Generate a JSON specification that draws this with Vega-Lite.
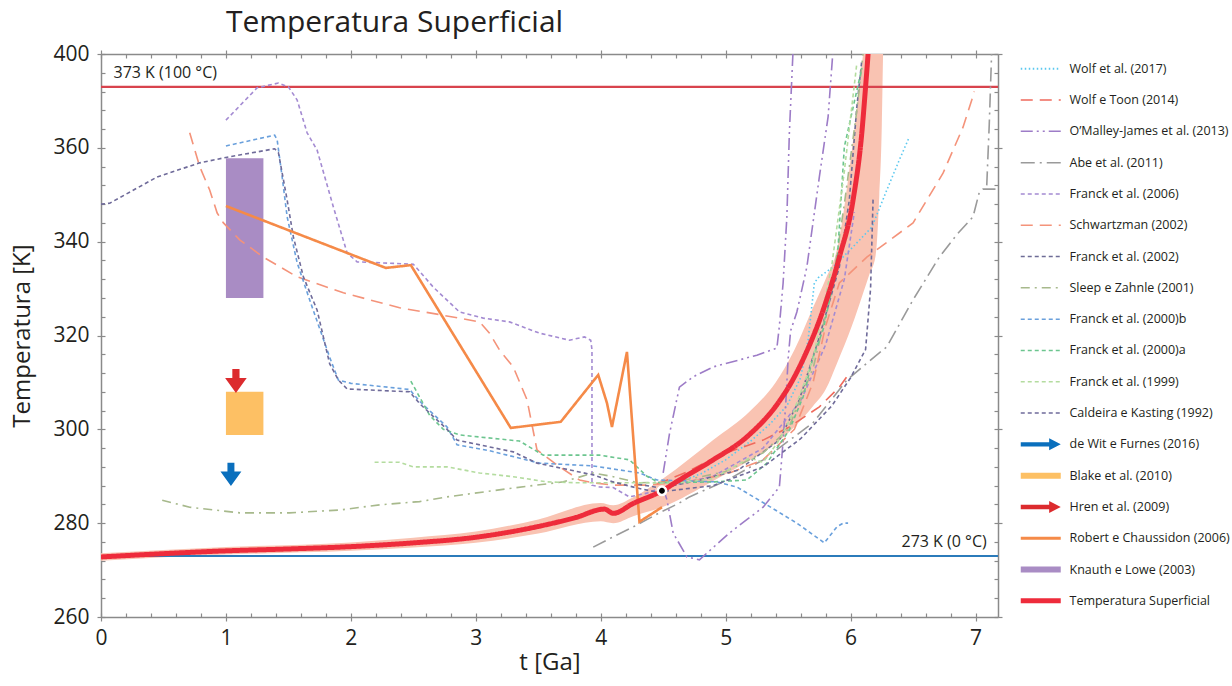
{
"$schema": "https://vega.github.io/schema/vega-lite/v6.json",
"width": 897, "height": 563,
"autosize": "none",
"padding": {"left": 101, "top": 54, "right": 234, "bottom": 69},
"background": "white",
"config": {"font": "Open Sans", "view": {"stroke": null}},
"title": {"text": "Temperatura Superficial", "fontSize": 30, "fontWeight": "normal", "color": "#231f20", "anchor": "middle", "frame": "group", "dx": -155, "offset": 5},
"datasets": {
"lines": [
{"s":"Wolf et al. (2017)","g":"W17","t":4.5,"T":287.5},{"s":"Wolf et al. (2017)","g":"W17","t":4.8,"T":290.5},{"s":"Wolf et al. (2017)","g":"W17","t":5.0,"T":293.5},{"s":"Wolf et al. (2017)","g":"W17","t":5.2,"T":297.5},{"s":"Wolf et al. (2017)","g":"W17","t":5.35,"T":301},{"s":"Wolf et al. (2017)","g":"W17","t":5.49,"T":305},{"s":"Wolf et al. (2017)","g":"W17","t":5.6,"T":311},{"s":"Wolf et al. (2017)","g":"W17","t":5.66,"T":319},{"s":"Wolf et al. (2017)","g":"W17","t":5.71,"T":331.2},{"s":"Wolf et al. (2017)","g":"W17","t":5.74,"T":332.3},{"s":"Wolf et al. (2017)","g":"W17","t":5.86,"T":334.6},{"s":"Wolf et al. (2017)","g":"W17","t":6.02,"T":338.9},{"s":"Wolf et al. (2017)","g":"W17","t":6.17,"T":343.1},{"s":"Wolf et al. (2017)","g":"W17","t":6.29,"T":351},{"s":"Wolf et al. (2017)","g":"W17","t":6.39,"T":357.4},{"s":"Wolf et al. (2017)","g":"W17","t":6.47,"T":362.3},
{"s":"Wolf e Toon (2014)","g":"WT","t":4.45,"T":288.3},{"s":"Wolf e Toon (2014)","g":"WT","t":4.7,"T":291},{"s":"Wolf e Toon (2014)","g":"WT","t":4.95,"T":294.5},{"s":"Wolf e Toon (2014)","g":"WT","t":5.3,"T":297.7},{"s":"Wolf e Toon (2014)","g":"WT","t":5.51,"T":300.5},{"s":"Wolf e Toon (2014)","g":"WT","t":5.75,"T":304.8},{"s":"Wolf e Toon (2014)","g":"WT","t":5.91,"T":309},{"s":"Wolf e Toon (2014)","g":"WT","t":5.98,"T":311.6},
{"s":"O’Malley-James et al. (2013)","g":"OMA","t":4.5,"T":290.7},{"s":"O’Malley-James et al. (2013)","g":"OMA","t":4.55,"T":299},{"s":"O’Malley-James et al. (2013)","g":"OMA","t":4.63,"T":309},{"s":"O’Malley-James et al. (2013)","g":"OMA","t":4.74,"T":311.2},{"s":"O’Malley-James et al. (2013)","g":"OMA","t":4.9,"T":313.3},{"s":"O’Malley-James et al. (2013)","g":"OMA","t":5.25,"T":315.8},{"s":"O’Malley-James et al. (2013)","g":"OMA","t":5.41,"T":317.3},{"s":"O’Malley-James et al. (2013)","g":"OMA","t":5.43,"T":322},{"s":"O’Malley-James et al. (2013)","g":"OMA","t":5.46,"T":331.2},{"s":"O’Malley-James et al. (2013)","g":"OMA","t":5.49,"T":345.3},{"s":"O’Malley-James et al. (2013)","g":"OMA","t":5.51,"T":363.2},{"s":"O’Malley-James et al. (2013)","g":"OMA","t":5.54,"T":381},
{"s":"O’Malley-James et al. (2013)","g":"OMB","t":4.5,"T":287.5},{"s":"O’Malley-James et al. (2013)","g":"OMB","t":4.53,"T":285},{"s":"O’Malley-James et al. (2013)","g":"OMB","t":4.58,"T":277.9},{"s":"O’Malley-James et al. (2013)","g":"OMB","t":4.69,"T":272.8},{"s":"O’Malley-James et al. (2013)","g":"OMB","t":4.79,"T":272.2},{"s":"O’Malley-James et al. (2013)","g":"OMB","t":5.03,"T":277.9},{"s":"O’Malley-James et al. (2013)","g":"OMB","t":5.3,"T":283.4},{"s":"O’Malley-James et al. (2013)","g":"OMB","t":5.43,"T":287.7},{"s":"O’Malley-James et al. (2013)","g":"OMB","t":5.45,"T":294.1},{"s":"O’Malley-James et al. (2013)","g":"OMB","t":5.48,"T":305},{"s":"O’Malley-James et al. (2013)","g":"OMB","t":5.5,"T":315},{"s":"O’Malley-James et al. (2013)","g":"OMB","t":5.52,"T":321},{"s":"O’Malley-James et al. (2013)","g":"OMB","t":5.57,"T":325},{"s":"O’Malley-James et al. (2013)","g":"OMB","t":5.65,"T":334.6},{"s":"O’Malley-James et al. (2013)","g":"OMB","t":5.75,"T":353.8},{"s":"O’Malley-James et al. (2013)","g":"OMB","t":5.82,"T":366.6},{"s":"O’Malley-James et al. (2013)","g":"OMB","t":5.86,"T":381},
{"s":"Abe et al. (2011)","g":"AB","t":3.94,"T":274.9},{"s":"Abe et al. (2011)","g":"AB","t":4.1,"T":277.1},{"s":"Abe et al. (2011)","g":"AB","t":4.26,"T":279.2},{"s":"Abe et al. (2011)","g":"AB","t":4.47,"T":282.2},{"s":"Abe et al. (2011)","g":"AB","t":4.63,"T":284.3},{"s":"Abe et al. (2011)","g":"AB","t":4.71,"T":285.6},{"s":"Abe et al. (2011)","g":"AB","t":5.0,"T":289},{"s":"Abe et al. (2011)","g":"AB","t":5.3,"T":293.5},{"s":"Abe et al. (2011)","g":"AB","t":5.7,"T":301.4},{"s":"Abe et al. (2011)","g":"AB","t":5.97,"T":310.5},{"s":"Abe et al. (2011)","g":"AB","t":6.13,"T":314.1},{"s":"Abe et al. (2011)","g":"AB","t":6.29,"T":317.6},{"s":"Abe et al. (2011)","g":"AB","t":6.5,"T":327.6},{"s":"Abe et al. (2011)","g":"AB","t":6.71,"T":336.7},{"s":"Abe et al. (2011)","g":"AB","t":6.85,"T":341.5},{"s":"Abe et al. (2011)","g":"AB","t":6.98,"T":345.3},{"s":"Abe et al. (2011)","g":"AB","t":7.03,"T":350.5},{"s":"Abe et al. (2011)","g":"AB","t":7.06,"T":351.2},{"s":"Abe et al. (2011)","g":"AB","t":7.16,"T":351.2},
{"s":"Abe et al. (2011)","g":"ABV","t":7.09,"T":352},{"s":"Abe et al. (2011)","g":"ABV","t":7.11,"T":365},{"s":"Abe et al. (2011)","g":"ABV","t":7.13,"T":381},
{"s":"Franck et al. (2006)","g":"F06","t":1.0,"T":365.9},{"s":"Franck et al. (2006)","g":"F06","t":1.25,"T":372.8},{"s":"Franck et al. (2006)","g":"F06","t":1.42,"T":373.8},{"s":"Franck et al. (2006)","g":"F06","t":1.5,"T":373},{"s":"Franck et al. (2006)","g":"F06","t":1.57,"T":370.2},{"s":"Franck et al. (2006)","g":"F06","t":1.65,"T":363.2},{"s":"Franck et al. (2006)","g":"F06","t":1.73,"T":359.5},{"s":"Franck et al. (2006)","g":"F06","t":1.86,"T":347.4},{"s":"Franck et al. (2006)","g":"F06","t":1.97,"T":337.6},{"s":"Franck et al. (2006)","g":"F06","t":2.05,"T":335.7},{"s":"Franck et al. (2006)","g":"F06","t":2.5,"T":335.2},{"s":"Franck et al. (2006)","g":"F06","t":2.66,"T":330.3},{"s":"Franck et al. (2006)","g":"F06","t":2.87,"T":325},{"s":"Franck et al. (2006)","g":"F06","t":3.06,"T":323.7},{"s":"Franck et al. (2006)","g":"F06","t":3.27,"T":322.9},{"s":"Franck et al. (2006)","g":"F06","t":3.51,"T":320.5},{"s":"Franck et al. (2006)","g":"F06","t":3.75,"T":319},{"s":"Franck et al. (2006)","g":"F06","t":3.87,"T":319.7},{"s":"Franck et al. (2006)","g":"F06","t":3.92,"T":319},{"s":"Franck et al. (2006)","g":"F06","t":3.93,"T":317},{"s":"Franck et al. (2006)","g":"F06","t":3.93,"T":288.1},{"s":"Franck et al. (2006)","g":"F06","t":3.99,"T":287.7},{"s":"Franck et al. (2006)","g":"F06","t":4.1,"T":287.6},{"s":"Franck et al. (2006)","g":"F06","t":4.23,"T":285.6},{"s":"Franck et al. (2006)","g":"F06","t":4.37,"T":286.4},{"s":"Franck et al. (2006)","g":"F06","t":4.48,"T":287.5},{"s":"Franck et al. (2006)","g":"F06","t":4.9,"T":290},{"s":"Franck et al. (2006)","g":"F06","t":5.3,"T":296},{"s":"Franck et al. (2006)","g":"F06","t":5.6,"T":306},{"s":"Franck et al. (2006)","g":"F06","t":5.8,"T":318},{"s":"Franck et al. (2006)","g":"F06","t":5.95,"T":332},{"s":"Franck et al. (2006)","g":"F06","t":6.03,"T":346.3},
{"s":"Schwartzman (2002)","g":"SCH","t":0.71,"T":363.2},{"s":"Schwartzman (2002)","g":"SCH","t":0.79,"T":356},{"s":"Schwartzman (2002)","g":"SCH","t":0.87,"T":351},{"s":"Schwartzman (2002)","g":"SCH","t":0.93,"T":346.1},{"s":"Schwartzman (2002)","g":"SCH","t":0.98,"T":344},{"s":"Schwartzman (2002)","g":"SCH","t":1.11,"T":340.4},{"s":"Schwartzman (2002)","g":"SCH","t":1.3,"T":336.7},{"s":"Schwartzman (2002)","g":"SCH","t":1.57,"T":332.5},{"s":"Schwartzman (2002)","g":"SCH","t":1.94,"T":329.1},{"s":"Schwartzman (2002)","g":"SCH","t":2.39,"T":325.9},{"s":"Schwartzman (2002)","g":"SCH","t":2.7,"T":324.5},{"s":"Schwartzman (2002)","g":"SCH","t":3.03,"T":322.9},{"s":"Schwartzman (2002)","g":"SCH","t":3.11,"T":320.5},{"s":"Schwartzman (2002)","g":"SCH","t":3.19,"T":316.9},{"s":"Schwartzman (2002)","g":"SCH","t":3.3,"T":313.3},{"s":"Schwartzman (2002)","g":"SCH","t":3.41,"T":306.3},{"s":"Schwartzman (2002)","g":"SCH","t":3.49,"T":295.6},{"s":"Schwartzman (2002)","g":"SCH","t":3.67,"T":292},{"s":"Schwartzman (2002)","g":"SCH","t":3.83,"T":289.2},{"s":"Schwartzman (2002)","g":"SCH","t":3.94,"T":288.6},{"s":"Schwartzman (2002)","g":"SCH","t":4.1,"T":288.1},{"s":"Schwartzman (2002)","g":"SCH","t":4.37,"T":288.1},{"s":"Schwartzman (2002)","g":"SCH","t":4.79,"T":289.2},{"s":"Schwartzman (2002)","g":"SCH","t":5.03,"T":290.7},{"s":"Schwartzman (2002)","g":"SCH","t":5.3,"T":293.5},{"s":"Schwartzman (2002)","g":"SCH","t":5.55,"T":300},{"s":"Schwartzman (2002)","g":"SCH","t":5.7,"T":310},{"s":"Schwartzman (2002)","g":"SCH","t":5.8,"T":322},{"s":"Schwartzman (2002)","g":"SCH","t":5.91,"T":331.2},{"s":"Schwartzman (2002)","g":"SCH","t":6.13,"T":336.7},{"s":"Schwartzman (2002)","g":"SCH","t":6.5,"T":344},{"s":"Schwartzman (2002)","g":"SCH","t":6.74,"T":354.6},{"s":"Schwartzman (2002)","g":"SCH","t":6.9,"T":364.4},{"s":"Schwartzman (2002)","g":"SCH","t":6.97,"T":370.2},{"s":"Schwartzman (2002)","g":"SCH","t":6.99,"T":372},
{"s":"Franck et al. (2002)","g":"F02","t":4.3,"T":288.3},{"s":"Franck et al. (2002)","g":"F02","t":4.48,"T":287.5},{"s":"Franck et al. (2002)","g":"F02","t":4.8,"T":289.2},{"s":"Franck et al. (2002)","g":"F02","t":5.1,"T":291.3},{"s":"Franck et al. (2002)","g":"F02","t":5.43,"T":297.7},{"s":"Franck et al. (2002)","g":"F02","t":5.59,"T":306.3},{"s":"Franck et al. (2002)","g":"F02","t":5.75,"T":319.7},{"s":"Franck et al. (2002)","g":"F02","t":5.91,"T":334.6},{"s":"Franck et al. (2002)","g":"F02","t":5.99,"T":348.9},{"s":"Franck et al. (2002)","g":"F02","t":6.05,"T":368.7},{"s":"Franck et al. (2002)","g":"F02","t":6.09,"T":378.7},
{"s":"Sleep e Zahnle (2001)","g":"SZ","t":0.49,"T":284.9},{"s":"Sleep e Zahnle (2001)","g":"SZ","t":0.71,"T":283.4},{"s":"Sleep e Zahnle (2001)","g":"SZ","t":1.11,"T":282.2},{"s":"Sleep e Zahnle (2001)","g":"SZ","t":1.51,"T":282.2},{"s":"Sleep e Zahnle (2001)","g":"SZ","t":1.91,"T":282.8},{"s":"Sleep e Zahnle (2001)","g":"SZ","t":2.23,"T":283.9},{"s":"Sleep e Zahnle (2001)","g":"SZ","t":2.55,"T":284.6},{"s":"Sleep e Zahnle (2001)","g":"SZ","t":2.77,"T":285.6},{"s":"Sleep e Zahnle (2001)","g":"SZ","t":3.3,"T":287.5},{"s":"Sleep e Zahnle (2001)","g":"SZ","t":3.7,"T":288.8},{"s":"Sleep e Zahnle (2001)","g":"SZ","t":3.94,"T":290.7},{"s":"Sleep e Zahnle (2001)","g":"SZ","t":4.1,"T":289.9},{"s":"Sleep e Zahnle (2001)","g":"SZ","t":4.3,"T":288.6},{"s":"Sleep e Zahnle (2001)","g":"SZ","t":4.6,"T":288.8},{"s":"Sleep e Zahnle (2001)","g":"SZ","t":5.0,"T":291},{"s":"Sleep e Zahnle (2001)","g":"SZ","t":5.3,"T":295},{"s":"Sleep e Zahnle (2001)","g":"SZ","t":5.5,"T":300},{"s":"Sleep e Zahnle (2001)","g":"SZ","t":5.7,"T":313},{"s":"Sleep e Zahnle (2001)","g":"SZ","t":5.85,"T":330},{"s":"Sleep e Zahnle (2001)","g":"SZ","t":5.95,"T":348},{"s":"Sleep e Zahnle (2001)","g":"SZ","t":6.05,"T":368},{"s":"Sleep e Zahnle (2001)","g":"SZ","t":6.1,"T":380},
{"s":"Franck et al. (2000)b","g":"F00b","t":1.0,"T":360.4},{"s":"Franck et al. (2000)b","g":"F00b","t":1.39,"T":362.7},{"s":"Franck et al. (2000)b","g":"F00b","t":1.41,"T":361.7},{"s":"Franck et al. (2000)b","g":"F00b","t":1.45,"T":353.8},{"s":"Franck et al. (2000)b","g":"F00b","t":1.49,"T":345.3},{"s":"Franck et al. (2000)b","g":"F00b","t":1.57,"T":335.5},{"s":"Franck et al. (2000)b","g":"F00b","t":1.67,"T":327.6},{"s":"Franck et al. (2000)b","g":"F00b","t":1.83,"T":315.4},{"s":"Franck et al. (2000)b","g":"F00b","t":1.9,"T":310.5},{"s":"Franck et al. (2000)b","g":"F00b","t":2.0,"T":309.8},{"s":"Franck et al. (2000)b","g":"F00b","t":2.47,"T":308.5},{"s":"Franck et al. (2000)b","g":"F00b","t":2.55,"T":306},{"s":"Franck et al. (2000)b","g":"F00b","t":2.77,"T":300.5},{"s":"Franck et al. (2000)b","g":"F00b","t":2.85,"T":296.7},{"s":"Franck et al. (2000)b","g":"F00b","t":3.1,"T":295.5},{"s":"Franck et al. (2000)b","g":"F00b","t":3.51,"T":292.8},{"s":"Franck et al. (2000)b","g":"F00b","t":3.94,"T":292.2},{"s":"Franck et al. (2000)b","g":"F00b","t":4.31,"T":290.7},{"s":"Franck et al. (2000)b","g":"F00b","t":4.45,"T":289.2},{"s":"Franck et al. (2000)b","g":"F00b","t":4.93,"T":288.8},{"s":"Franck et al. (2000)b","g":"F00b","t":5.09,"T":287.7},{"s":"Franck et al. (2000)b","g":"F00b","t":5.33,"T":283.9},{"s":"Franck et al. (2000)b","g":"F00b","t":5.57,"T":280},{"s":"Franck et al. (2000)b","g":"F00b","t":5.79,"T":275.8},{"s":"Franck et al. (2000)b","g":"F00b","t":5.89,"T":279.2},{"s":"Franck et al. (2000)b","g":"F00b","t":5.94,"T":280},{"s":"Franck et al. (2000)b","g":"F00b","t":5.98,"T":280},
{"s":"Franck et al. (2000)a","g":"F00a","t":2.48,"T":310.3},{"s":"Franck et al. (2000)a","g":"F00a","t":2.63,"T":303},{"s":"Franck et al. (2000)a","g":"F00a","t":2.74,"T":300},{"s":"Franck et al. (2000)a","g":"F00a","t":2.87,"T":298.8},{"s":"Franck et al. (2000)a","g":"F00a","t":3.35,"T":297.5},{"s":"Franck et al. (2000)a","g":"F00a","t":3.54,"T":294.5},{"s":"Franck et al. (2000)a","g":"F00a","t":3.99,"T":294.5},{"s":"Franck et al. (2000)a","g":"F00a","t":4.23,"T":293.5},{"s":"Franck et al. (2000)a","g":"F00a","t":4.37,"T":290},{"s":"Franck et al. (2000)a","g":"F00a","t":4.47,"T":288.6},{"s":"Franck et al. (2000)a","g":"F00a","t":4.9,"T":288.8},{"s":"Franck et al. (2000)a","g":"F00a","t":5.17,"T":289.2},{"s":"Franck et al. (2000)a","g":"F00a","t":5.33,"T":292.8},{"s":"Franck et al. (2000)a","g":"F00a","t":5.51,"T":299.9},{"s":"Franck et al. (2000)a","g":"F00a","t":5.62,"T":306.9},{"s":"Franck et al. (2000)a","g":"F00a","t":5.7,"T":315.4},{"s":"Franck et al. (2000)a","g":"F00a","t":5.78,"T":321.2},{"s":"Franck et al. (2000)a","g":"F00a","t":5.89,"T":334.6},{"s":"Franck et al. (2000)a","g":"F00a","t":5.95,"T":360.2},{"s":"Franck et al. (2000)a","g":"F00a","t":6.09,"T":377},
{"s":"Franck et al. (1999)","g":"F99","t":2.19,"T":293},{"s":"Franck et al. (1999)","g":"F99","t":2.39,"T":293},{"s":"Franck et al. (1999)","g":"F99","t":2.5,"T":292},{"s":"Franck et al. (1999)","g":"F99","t":2.77,"T":292},{"s":"Franck et al. (1999)","g":"F99","t":3.03,"T":290.7},{"s":"Franck et al. (1999)","g":"F99","t":3.3,"T":289.9},{"s":"Franck et al. (1999)","g":"F99","t":3.57,"T":288.8},{"s":"Franck et al. (1999)","g":"F99","t":3.83,"T":288.6},{"s":"Franck et al. (1999)","g":"F99","t":4.37,"T":288.6},{"s":"Franck et al. (1999)","g":"F99","t":4.6,"T":288.5},{"s":"Franck et al. (1999)","g":"F99","t":4.9,"T":289.5},{"s":"Franck et al. (1999)","g":"F99","t":5.19,"T":293.9},{"s":"Franck et al. (1999)","g":"F99","t":5.3,"T":293},{"s":"Franck et al. (1999)","g":"F99","t":5.43,"T":297.7},{"s":"Franck et al. (1999)","g":"F99","t":5.54,"T":303.5},{"s":"Franck et al. (1999)","g":"F99","t":5.7,"T":315},{"s":"Franck et al. (1999)","g":"F99","t":5.85,"T":335},{"s":"Franck et al. (1999)","g":"F99","t":5.95,"T":355},{"s":"Franck et al. (1999)","g":"F99","t":6.05,"T":378},
{"s":"Caldeira e Kasting (1992)","g":"CK","t":0,"T":348},{"s":"Caldeira e Kasting (1992)","g":"CK","t":0.07,"T":348.2},{"s":"Caldeira e Kasting (1992)","g":"CK","t":0.45,"T":353.8},{"s":"Caldeira e Kasting (1992)","g":"CK","t":0.79,"T":356.8},{"s":"Caldeira e Kasting (1992)","g":"CK","t":1.01,"T":358},{"s":"Caldeira e Kasting (1992)","g":"CK","t":1.39,"T":359.8},{"s":"Caldeira e Kasting (1992)","g":"CK","t":1.42,"T":359},{"s":"Caldeira e Kasting (1992)","g":"CK","t":1.49,"T":348.9},{"s":"Caldeira e Kasting (1992)","g":"CK","t":1.54,"T":341},{"s":"Caldeira e Kasting (1992)","g":"CK","t":1.62,"T":332.5},{"s":"Caldeira e Kasting (1992)","g":"CK","t":1.73,"T":325.4},{"s":"Caldeira e Kasting (1992)","g":"CK","t":1.83,"T":314},{"s":"Caldeira e Kasting (1992)","g":"CK","t":1.9,"T":310.5},{"s":"Caldeira e Kasting (1992)","g":"CK","t":1.97,"T":308.6},{"s":"Caldeira e Kasting (1992)","g":"CK","t":2.47,"T":308},{"s":"Caldeira e Kasting (1992)","g":"CK","t":2.55,"T":305.5},{"s":"Caldeira e Kasting (1992)","g":"CK","t":2.77,"T":300},{"s":"Caldeira e Kasting (1992)","g":"CK","t":2.85,"T":297.7},{"s":"Caldeira e Kasting (1992)","g":"CK","t":3.3,"T":295.2},{"s":"Caldeira e Kasting (1992)","g":"CK","t":3.49,"T":292.8},{"s":"Caldeira e Kasting (1992)","g":"CK","t":3.94,"T":290.3},{"s":"Caldeira e Kasting (1992)","g":"CK","t":4.1,"T":288.8},{"s":"Caldeira e Kasting (1992)","g":"CK","t":4.29,"T":287.5},{"s":"Caldeira e Kasting (1992)","g":"CK","t":4.45,"T":286.6},{"s":"Caldeira e Kasting (1992)","g":"CK","t":4.9,"T":288},{"s":"Caldeira e Kasting (1992)","g":"CK","t":5.3,"T":292},{"s":"Caldeira e Kasting (1992)","g":"CK","t":5.6,"T":298},{"s":"Caldeira e Kasting (1992)","g":"CK","t":5.85,"T":305},{"s":"Caldeira e Kasting (1992)","g":"CK","t":6.0,"T":311},{"s":"Caldeira e Kasting (1992)","g":"CK","t":6.12,"T":317},{"s":"Caldeira e Kasting (1992)","g":"CK","t":6.16,"T":330},{"s":"Caldeira e Kasting (1992)","g":"CK","t":6.18,"T":349}
],
"robert": [
{"s":"Robert e Chaussidon (2006)","t":1.0,"T":347.6},{"s":"Robert e Chaussidon (2006)","t":2.28,"T":334.4},{"s":"Robert e Chaussidon (2006)","t":2.48,"T":335},{"s":"Robert e Chaussidon (2006)","t":3.28,"T":300.3},{"s":"Robert e Chaussidon (2006)","t":3.68,"T":301.6},{"s":"Robert e Chaussidon (2006)","t":3.98,"T":311.6},{"s":"Robert e Chaussidon (2006)","t":4.05,"T":305.6},{"s":"Robert e Chaussidon (2006)","t":4.09,"T":300.5},{"s":"Robert e Chaussidon (2006)","t":4.21,"T":316.5},{"s":"Robert e Chaussidon (2006)","t":4.31,"T":280.3},{"s":"Robert e Chaussidon (2006)","t":4.49,"T":283.4}
],
"temp": [
{"s":"Temperatura Superficial","t":0,"T":272.8},{"s":"Temperatura Superficial","t":0.5,"T":273.5},{"s":"Temperatura Superficial","t":1,"T":274.1},{"s":"Temperatura Superficial","t":1.5,"T":274.5},{"s":"Temperatura Superficial","t":2,"T":275.0},{"s":"Temperatura Superficial","t":2.5,"T":275.8},{"s":"Temperatura Superficial","t":3,"T":277.0},{"s":"Temperatura Superficial","t":3.5,"T":279.3},{"s":"Temperatura Superficial","t":3.8,"T":281.2},{"s":"Temperatura Superficial","t":4.03,"T":283.0},{"s":"Temperatura Superficial","t":4.1,"T":282.1},{"s":"Temperatura Superficial","t":4.26,"T":284.2},{"s":"Temperatura Superficial","t":4.49,"T":286.9},{"s":"Temperatura Superficial","t":4.63,"T":289.2},{"s":"Temperatura Superficial","t":4.9,"T":293.5},{"s":"Temperatura Superficial","t":5.17,"T":298.4},{"s":"Temperatura Superficial","t":5.43,"T":306},{"s":"Temperatura Superficial","t":5.53,"T":310.2},{"s":"Temperatura Superficial","t":5.63,"T":315.5},{"s":"Temperatura Superficial","t":5.78,"T":325.4},{"s":"Temperatura Superficial","t":5.91,"T":336.7},{"s":"Temperatura Superficial","t":6.02,"T":348.9},{"s":"Temperatura Superficial","t":6.09,"T":363.2},{"s":"Temperatura Superficial","t":6.12,"T":373},{"s":"Temperatura Superficial","t":6.14,"T":380},{"s":"Temperatura Superficial","t":6.15,"T":384}
],
"band": [
{"t":0,"lo":272.0,"hi":273.6},{"t":1,"lo":273.3,"hi":274.9},{"t":2,"lo":274.1,"hi":275.9},{"t":2.5,"lo":274.8,"hi":276.9},{"t":3,"lo":275.8,"hi":278.2},{"t":3.5,"lo":277.8,"hi":280.8},{"t":4.0,"lo":280.4,"hi":284.3},{"t":4.1,"lo":280.0,"hi":283.8},{"t":4.26,"lo":281.5,"hi":285.5},{"t":4.5,"lo":283.5,"hi":289.5},{"t":4.9,"lo":289.0,"hi":297.7},{"t":5.2,"lo":293.5,"hi":304},{"t":5.4,"lo":297,"hi":310},{"t":5.55,"lo":300.5,"hi":316.9},{"t":5.7,"lo":305,"hi":326},{"t":5.8,"lo":308.5,"hi":332},{"t":5.89,"lo":314,"hi":338.2},{"t":6.01,"lo":322,"hi":359.5},{"t":6.1,"lo":329,"hi":380},{"t":6.15,"lo":333,"hi":392},{"t":6.2,"lo":337,"hi":400},{"t":6.23,"lo":350,"hi":400},{"t":6.25,"lo":365,"hi":400},{"t":6.26,"lo":380,"hi":400},{"t":6.27,"lo":396,"hi":400}
],
"rects": [
{"s":"Knauth e Lowe (2003)","t1":1.0,"t2":1.3,"T1":328.0,"T2":357.8},
{"s":"Blake et al. (2010)","t1":1.0,"t2":1.3,"T1":298.8,"T2":308.0}
],
"arrows": [
{"s":"Hren et al. (2009)","t":1.08,"T":310.3},
{"s":"de Wit e Furnes (2016)","t":1.04,"T":290.4}
],
"dot": [{"t":4.49,"T":286.9}],
"refs": [{"T":373,"label":"373 K (100 °C)"},{"T":273,"label":"273 K (0 °C)"}]
},
"layer": [
{"data":{"name":"rects"},"transform":[{"filter":"datum.s == 'Knauth e Lowe (2003)'"}],"mark":{"type":"rect","color":"#a98cc4"},
 "encoding":{"x":{"field":"t1","type":"quantitative","scale":{"domain":[0,7.18],"nice":false,"zero":false},"axis":null},"x2":{"field":"t2"},"y":{"field":"T1","type":"quantitative","scale":{"domain":[260,380],"nice":false,"zero":false},"axis":null},"y2":{"field":"T2"}}},
{"data":{"name":"rects"},"transform":[{"filter":"datum.s == 'Blake et al. (2010)'"}],"mark":{"type":"rect","color":"#fdc064"},
 "encoding":{"x":{"field":"t1","type":"quantitative","scale":{"domain":[0,7.18],"nice":false,"zero":false},"axis":null},"x2":{"field":"t2"},"y":{"field":"T1","type":"quantitative","scale":{"domain":[260,380],"nice":false,"zero":false},"axis":null},"y2":{"field":"T2"}}},
{"data":{"name":"band"},"mark":{"type":"area","color":"#f9c3b2","interpolate":"monotone","clip":true},
 "encoding":{"x":{"field":"t","type":"quantitative","scale":{"domain":[0,7.18],"nice":false,"zero":false},
   "axis":{"orient":"bottom","values":[0,0.2,0.4,0.6,0.8,1,1.2,1.4,1.6,1.8,2,2.2,2.4,2.6,2.8,3,3.2,3.4,3.6,3.8,4,4.2,4.4,4.6,4.8,5,5.2,5.4,5.6,5.8,6,6.2,6.4,6.6,6.8,7],"tickSize":-4,"tickColor":"#8a8a8a","tickWidth":1.2,"labels":false,"domain":false,"grid":false,"title":null}},
  "y":{"field":"lo","type":"quantitative","scale":{"domain":[260,380],"nice":false,"zero":false},
   "axis":{"orient":"left","values":[260,264,268,272,276,280,284,288,292,296,300,304,308,312,316,320,324,328,332,336,340,344,348,352,356,360,364,368,372,376,380],"tickSize":-4,"tickColor":"#8a8a8a","tickWidth":1.2,"labels":false,"domain":false,"grid":false,"title":null}},
  "y2":{"field":"hi"}}},
{"data":{"name":"refs"},"mark":{"type":"rule","strokeWidth":2.2},
 "encoding":{"y":{"field":"T","type":"quantitative","scale":{"domain":[260,380],"nice":false,"zero":false},"axis":null},
  "color":{"condition":{"test":"datum.T > 300","value":"#d8434d"},"value":"#2b7bba"}}},
{"data":{"name":"lines"},"mark":{"type":"line","strokeWidth":1.6,"clip":true},
 "encoding":{"x":{"field":"t","type":"quantitative","scale":{"domain":[0,7.18],"nice":false,"zero":false},
   "axis":{"orient":"bottom","values":[0,1,2,3,4,5,6,7],"tickSize":4,"tickColor":"#8a8a8a","tickWidth":1.2,"domain":true,"domainColor":"#8a8a8a","domainWidth":1.5,"grid":false,"labelFontSize":21,"labelColor":"#231f20","labelPadding":6,"labelFlush":false,"title":"t [Ga]","titleFontSize":24,"titleFontWeight":"normal","titleColor":"#231f20","titlePadding":2}},
  "y":{"field":"T","type":"quantitative","scale":{"domain":[260,380],"nice":false,"zero":false},
   "axis":{"orient":"left","values":[260,280,300,320,340,360,380],"labelExpr":"datum.value == 380 ? '400' : datum.label","tickSize":4,"tickColor":"#8a8a8a","tickWidth":1.2,"domain":true,"domainColor":"#8a8a8a","domainWidth":1.5,"grid":false,"labelFontSize":21,"labelColor":"#231f20","labelPadding":8,"labelFlush":false,"title":"Temperatura [K]","titleFontSize":24,"titleFontWeight":"normal","titleColor":"#231f20","titlePadding":18}},
  "detail":{"field":"g","type":"nominal"},
  "color":{"field":"s","type":"nominal","scale":{"domain":["Wolf et al. (2017)","Wolf e Toon (2014)","O’Malley-James et al. (2013)","Abe et al. (2011)","Franck et al. (2006)","Schwartzman (2002)","Franck et al. (2002)","Sleep e Zahnle (2001)","Franck et al. (2000)b","Franck et al. (2000)a","Franck et al. (1999)","Caldeira e Kasting (1992)","de Wit e Furnes (2016)","Blake et al. (2010)","Hren et al. (2009)","Robert e Chaussidon (2006)","Knauth e Lowe (2003)","Temperatura Superficial"],"range":["#5bc8ef","#ef6a5c","#9d7cc7","#9a9a9a","#a48bd2","#f4937a","#6e6c96","#a7b98c","#6aa0dc","#6cc58f","#b4dc9f","#6f6b9a","#0a6fbd","#fdc064","#dc2b2e","#f58a48","#a98cc4","#ee2b3b"]},
   "legend":{"title":null,"orient":"right","offset":22,"padding":8.5,"rowPadding":18.3,"labelOffset":22.5,"symbolOffset":1,"symbolSize":1600,"symbolType":"stroke","labelFontSize":12.5,"labelColor":"#231f20","labelLimit":300,
    "encode":{"symbols":{"update":{"strokeJoin":{"value":"bevel"},"shape":{"signal":"indexof(['de Wit e Furnes (2016)','Hren et al. (2009)'], datum.value) >= 0 ? 'M-1,-0.11L0.42,-0.11L0.42,-0.3L1,0L0.42,0.3L0.42,0.11L-1,0.11Z' : 'stroke'"},"fill":{"signal":"indexof(['de Wit e Furnes (2016)','Hren et al. (2009)'], datum.value) >= 0 ? scale('color', datum.value) : 'transparent'"},"strokeWidth":{"signal":"datum.value == 'Temperatura Superficial' ? 5 : (datum.value == 'Blake et al. (2010)' || datum.value == 'Knauth e Lowe (2003)') ? 6 : datum.value == 'Robert e Chaussidon (2006)' ? 3 : indexof(['de Wit e Furnes (2016)','Hren et al. (2009)'], datum.value) >= 0 ? 0 : datum.value == 'Wolf et al. (2017)' ? 2 : 1.5"}}}}}},
  "strokeDash":{"field":"s","type":"nominal","scale":{"domain":["Wolf et al. (2017)","Wolf e Toon (2014)","O’Malley-James et al. (2013)","Abe et al. (2011)","Franck et al. (2006)","Schwartzman (2002)","Franck et al. (2002)","Sleep e Zahnle (2001)","Franck et al. (2000)b","Franck et al. (2000)a","Franck et al. (1999)","Caldeira e Kasting (1992)","de Wit e Furnes (2016)","Blake et al. (2010)","Hren et al. (2009)","Robert e Chaussidon (2006)","Knauth e Lowe (2003)","Temperatura Superficial"],"range":[[1.5,2.5],[12,7],[12,4,2,4,2,4],[14,5,2,5],[4,3],[12,7],[4,3],[9,5,2,5],[4,3],[4,3],[4,3],[4,3],[1,0],[1,0],[1,0],[1,0],[1,0],[1,0]]},
   "legend":{"title":null,"orient":"right","offset":22,"padding":8.5,"rowPadding":18.3,"labelOffset":22.5,"symbolOffset":1,"symbolSize":1600,"symbolType":"stroke","labelFontSize":12.5,"labelColor":"#231f20","labelLimit":300,
    "encode":{"symbols":{"update":{"strokeJoin":{"value":"bevel"},"shape":{"signal":"indexof(['de Wit e Furnes (2016)','Hren et al. (2009)'], datum.value) >= 0 ? 'M-1,-0.11L0.42,-0.11L0.42,-0.3L1,0L0.42,0.3L0.42,0.11L-1,0.11Z' : 'stroke'"},"fill":{"signal":"indexof(['de Wit e Furnes (2016)','Hren et al. (2009)'], datum.value) >= 0 ? scale('color', datum.value) : 'transparent'"},"strokeWidth":{"signal":"datum.value == 'Temperatura Superficial' ? 5 : (datum.value == 'Blake et al. (2010)' || datum.value == 'Knauth e Lowe (2003)') ? 6 : datum.value == 'Robert e Chaussidon (2006)' ? 3 : indexof(['de Wit e Furnes (2016)','Hren et al. (2009)'], datum.value) >= 0 ? 0 : datum.value == 'Wolf et al. (2017)' ? 2 : 1.5"}}}}}}}},
{"data":{"name":"robert"},"mark":{"type":"line","strokeWidth":2.6,"clip":true},
 "encoding":{"x":{"field":"t","type":"quantitative","scale":{"domain":[0,7.18],"nice":false,"zero":false},
   "axis":{"orient":"top","values":[0,0.2,0.4,0.6,0.8,1,1.2,1.4,1.6,1.8,2,2.2,2.4,2.6,2.8,3,3.2,3.4,3.6,3.8,4,4.2,4.4,4.6,4.8,5,5.2,5.4,5.6,5.8,6,6.2,6.4,6.6,6.8,7],"tickSize":-4,"tickColor":"#8a8a8a","tickWidth":1.2,"labels":false,"domain":false,"grid":false,"title":null}},
  "y":{"field":"T","type":"quantitative","scale":{"domain":[260,380],"nice":false,"zero":false},
   "axis":{"orient":"right","values":[260,264,268,272,276,280,284,288,292,296,300,304,308,312,316,320,324,328,332,336,340,344,348,352,356,360,364,368,372,376,380],"tickSize":-4,"tickColor":"#8a8a8a","tickWidth":1.2,"labels":false,"domain":false,"grid":false,"title":null}},
  "color":{"field":"s","type":"nominal","scale":{"domain":["Wolf et al. (2017)","Wolf e Toon (2014)","O’Malley-James et al. (2013)","Abe et al. (2011)","Franck et al. (2006)","Schwartzman (2002)","Franck et al. (2002)","Sleep e Zahnle (2001)","Franck et al. (2000)b","Franck et al. (2000)a","Franck et al. (1999)","Caldeira e Kasting (1992)","de Wit e Furnes (2016)","Blake et al. (2010)","Hren et al. (2009)","Robert e Chaussidon (2006)","Knauth e Lowe (2003)","Temperatura Superficial"],"range":["#5bc8ef","#ef6a5c","#9d7cc7","#9a9a9a","#a48bd2","#f4937a","#6e6c96","#a7b98c","#6aa0dc","#6cc58f","#b4dc9f","#6f6b9a","#0a6fbd","#fdc064","#dc2b2e","#f58a48","#a98cc4","#ee2b3b"]},
   "legend":{"title":null,"orient":"right","offset":22,"padding":8.5,"rowPadding":18.3,"labelOffset":22.5,"symbolOffset":1,"symbolSize":1600,"symbolType":"stroke","labelFontSize":12.5,"labelColor":"#231f20","labelLimit":300,
    "encode":{"symbols":{"update":{"strokeJoin":{"value":"bevel"},"shape":{"signal":"indexof(['de Wit e Furnes (2016)','Hren et al. (2009)'], datum.value) >= 0 ? 'M-1,-0.11L0.42,-0.11L0.42,-0.3L1,0L0.42,0.3L0.42,0.11L-1,0.11Z' : 'stroke'"},"fill":{"signal":"indexof(['de Wit e Furnes (2016)','Hren et al. (2009)'], datum.value) >= 0 ? scale('color', datum.value) : 'transparent'"},"strokeWidth":{"signal":"datum.value == 'Temperatura Superficial' ? 5 : (datum.value == 'Blake et al. (2010)' || datum.value == 'Knauth e Lowe (2003)') ? 6 : datum.value == 'Robert e Chaussidon (2006)' ? 3 : indexof(['de Wit e Furnes (2016)','Hren et al. (2009)'], datum.value) >= 0 ? 0 : datum.value == 'Wolf et al. (2017)' ? 2 : 1.5"}}}}}},
  "strokeDash":{"field":"s","type":"nominal","scale":{"domain":["Wolf et al. (2017)","Wolf e Toon (2014)","O’Malley-James et al. (2013)","Abe et al. (2011)","Franck et al. (2006)","Schwartzman (2002)","Franck et al. (2002)","Sleep e Zahnle (2001)","Franck et al. (2000)b","Franck et al. (2000)a","Franck et al. (1999)","Caldeira e Kasting (1992)","de Wit e Furnes (2016)","Blake et al. (2010)","Hren et al. (2009)","Robert e Chaussidon (2006)","Knauth e Lowe (2003)","Temperatura Superficial"],"range":[[1.5,2.5],[12,7],[12,4,2,4,2,4],[14,5,2,5],[4,3],[12,7],[4,3],[9,5,2,5],[4,3],[4,3],[4,3],[4,3],[1,0],[1,0],[1,0],[1,0],[1,0],[1,0]]},
   "legend":{"title":null,"orient":"right","offset":22,"padding":8.5,"rowPadding":18.3,"labelOffset":22.5,"symbolOffset":1,"symbolSize":1600,"symbolType":"stroke","labelFontSize":12.5,"labelColor":"#231f20","labelLimit":300,
    "encode":{"symbols":{"update":{"strokeJoin":{"value":"bevel"},"shape":{"signal":"indexof(['de Wit e Furnes (2016)','Hren et al. (2009)'], datum.value) >= 0 ? 'M-1,-0.11L0.42,-0.11L0.42,-0.3L1,0L0.42,0.3L0.42,0.11L-1,0.11Z' : 'stroke'"},"fill":{"signal":"indexof(['de Wit e Furnes (2016)','Hren et al. (2009)'], datum.value) >= 0 ? scale('color', datum.value) : 'transparent'"},"strokeWidth":{"signal":"datum.value == 'Temperatura Superficial' ? 5 : (datum.value == 'Blake et al. (2010)' || datum.value == 'Knauth e Lowe (2003)') ? 6 : datum.value == 'Robert e Chaussidon (2006)' ? 3 : indexof(['de Wit e Furnes (2016)','Hren et al. (2009)'], datum.value) >= 0 ? 0 : datum.value == 'Wolf et al. (2017)' ? 2 : 1.5"}}}}}}}},
{"data":{"name":"temp"},"mark":{"type":"line","strokeWidth":5,"interpolate":"monotone","clip":true},
 "encoding":{"x":{"field":"t","type":"quantitative","scale":{"domain":[0,7.18],"nice":false,"zero":false},
   "axis":{"orient":"top","values":[0,1,2,3,4,5,6,7],"tickSize":4,"tickColor":"#8a8a8a","tickWidth":1.2,"labels":false,"domain":true,"domainColor":"#8a8a8a","domainWidth":1.5,"grid":false,"title":null}},
  "y":{"field":"T","type":"quantitative","scale":{"domain":[260,380],"nice":false,"zero":false},
   "axis":{"orient":"right","values":[260,280,300,320,340,360,380],"tickSize":4,"tickColor":"#8a8a8a","tickWidth":1.2,"labels":false,"domain":true,"domainColor":"#8a8a8a","domainWidth":1.5,"grid":false,"title":null}},
  "color":{"field":"s","type":"nominal","scale":{"domain":["Wolf et al. (2017)","Wolf e Toon (2014)","O’Malley-James et al. (2013)","Abe et al. (2011)","Franck et al. (2006)","Schwartzman (2002)","Franck et al. (2002)","Sleep e Zahnle (2001)","Franck et al. (2000)b","Franck et al. (2000)a","Franck et al. (1999)","Caldeira e Kasting (1992)","de Wit e Furnes (2016)","Blake et al. (2010)","Hren et al. (2009)","Robert e Chaussidon (2006)","Knauth e Lowe (2003)","Temperatura Superficial"],"range":["#5bc8ef","#ef6a5c","#9d7cc7","#9a9a9a","#a48bd2","#f4937a","#6e6c96","#a7b98c","#6aa0dc","#6cc58f","#b4dc9f","#6f6b9a","#0a6fbd","#fdc064","#dc2b2e","#f58a48","#a98cc4","#ee2b3b"]},
   "legend":{"title":null,"orient":"right","offset":22,"padding":8.5,"rowPadding":18.3,"labelOffset":22.5,"symbolOffset":1,"symbolSize":1600,"symbolType":"stroke","labelFontSize":12.5,"labelColor":"#231f20","labelLimit":300,
    "encode":{"symbols":{"update":{"strokeJoin":{"value":"bevel"},"shape":{"signal":"indexof(['de Wit e Furnes (2016)','Hren et al. (2009)'], datum.value) >= 0 ? 'M-1,-0.11L0.42,-0.11L0.42,-0.3L1,0L0.42,0.3L0.42,0.11L-1,0.11Z' : 'stroke'"},"fill":{"signal":"indexof(['de Wit e Furnes (2016)','Hren et al. (2009)'], datum.value) >= 0 ? scale('color', datum.value) : 'transparent'"},"strokeWidth":{"signal":"datum.value == 'Temperatura Superficial' ? 5 : (datum.value == 'Blake et al. (2010)' || datum.value == 'Knauth e Lowe (2003)') ? 6 : datum.value == 'Robert e Chaussidon (2006)' ? 3 : indexof(['de Wit e Furnes (2016)','Hren et al. (2009)'], datum.value) >= 0 ? 0 : datum.value == 'Wolf et al. (2017)' ? 2 : 1.5"}}}}}},
  "strokeDash":{"field":"s","type":"nominal","scale":{"domain":["Wolf et al. (2017)","Wolf e Toon (2014)","O’Malley-James et al. (2013)","Abe et al. (2011)","Franck et al. (2006)","Schwartzman (2002)","Franck et al. (2002)","Sleep e Zahnle (2001)","Franck et al. (2000)b","Franck et al. (2000)a","Franck et al. (1999)","Caldeira e Kasting (1992)","de Wit e Furnes (2016)","Blake et al. (2010)","Hren et al. (2009)","Robert e Chaussidon (2006)","Knauth e Lowe (2003)","Temperatura Superficial"],"range":[[1.5,2.5],[12,7],[12,4,2,4,2,4],[14,5,2,5],[4,3],[12,7],[4,3],[9,5,2,5],[4,3],[4,3],[4,3],[4,3],[1,0],[1,0],[1,0],[1,0],[1,0],[1,0]]},
   "legend":{"title":null,"orient":"right","offset":22,"padding":8.5,"rowPadding":18.3,"labelOffset":22.5,"symbolOffset":1,"symbolSize":1600,"symbolType":"stroke","labelFontSize":12.5,"labelColor":"#231f20","labelLimit":300,
    "encode":{"symbols":{"update":{"strokeJoin":{"value":"bevel"},"shape":{"signal":"indexof(['de Wit e Furnes (2016)','Hren et al. (2009)'], datum.value) >= 0 ? 'M-1,-0.11L0.42,-0.11L0.42,-0.3L1,0L0.42,0.3L0.42,0.11L-1,0.11Z' : 'stroke'"},"fill":{"signal":"indexof(['de Wit e Furnes (2016)','Hren et al. (2009)'], datum.value) >= 0 ? scale('color', datum.value) : 'transparent'"},"strokeWidth":{"signal":"datum.value == 'Temperatura Superficial' ? 5 : (datum.value == 'Blake et al. (2010)' || datum.value == 'Knauth e Lowe (2003)') ? 6 : datum.value == 'Robert e Chaussidon (2006)' ? 3 : indexof(['de Wit e Furnes (2016)','Hren et al. (2009)'], datum.value) >= 0 ? 0 : datum.value == 'Wolf et al. (2017)' ? 2 : 1.5"}}}}}}}},
{"data":{"name":"dot"},"mark":{"type":"point","filled":true,"color":"black","size":70,"stroke":"white","strokeWidth":2.5,"opacity":1},
 "encoding":{"x":{"field":"t","type":"quantitative","scale":{"domain":[0,7.18],"nice":false,"zero":false},"axis":null},"y":{"field":"T","type":"quantitative","scale":{"domain":[260,380],"nice":false,"zero":false},"axis":null}}},
{"data":{"name":"arrows"},"transform":[{"filter":"datum.s == 'Hren et al. (2009)'"}],"mark":{"type":"point","filled":true,"color":"#dc2b2e","opacity":1,"size":576,"shape":"M-0.3,-1L0.3,-1L0.3,-0.25L0.9,-0.25L0,1L-0.9,-0.25L-0.3,-0.25Z"},
 "encoding":{"x":{"field":"t","type":"quantitative","scale":{"domain":[0,7.18],"nice":false,"zero":false},"axis":null},"y":{"field":"T","type":"quantitative","scale":{"domain":[260,380],"nice":false,"zero":false},"axis":null}}},
{"data":{"name":"arrows"},"transform":[{"filter":"datum.s == 'de Wit e Furnes (2016)'"}],"mark":{"type":"point","filled":true,"color":"#0a6fbd","opacity":1,"size":540,"shape":"M-0.3,-1L0.3,-1L0.3,-0.25L0.9,-0.25L0,1L-0.9,-0.25L-0.3,-0.25Z"},
 "encoding":{"x":{"field":"t","type":"quantitative","scale":{"domain":[0,7.18],"nice":false,"zero":false},"axis":null},"y":{"field":"T","type":"quantitative","scale":{"domain":[260,380],"nice":false,"zero":false},"axis":null}}},
{"data":{"name":"refs"},"transform":[{"filter":"datum.T > 300"}],"mark":{"type":"text","align":"left","baseline":"alphabetic","dy":-9,"fontSize":16,"color":"#231f20"},
 "encoding":{"x":{"datum":0.1,"type":"quantitative","scale":{"domain":[0,7.18],"nice":false,"zero":false},"axis":null},"y":{"field":"T","type":"quantitative","scale":{"domain":[260,380],"nice":false,"zero":false},"axis":null},"text":{"field":"label"}}},
{"data":{"name":"refs"},"transform":[{"filter":"datum.T < 300"}],"mark":{"type":"text","align":"right","baseline":"alphabetic","dy":-9,"fontSize":16,"color":"#231f20"},
 "encoding":{"x":{"datum":7.09,"type":"quantitative","scale":{"domain":[0,7.18],"nice":false,"zero":false},"axis":null},"y":{"field":"T","type":"quantitative","scale":{"domain":[260,380],"nice":false,"zero":false},"axis":null},"text":{"field":"label"}}}
],
"resolve": {"axis": {"x": "independent", "y": "independent"}}
}
